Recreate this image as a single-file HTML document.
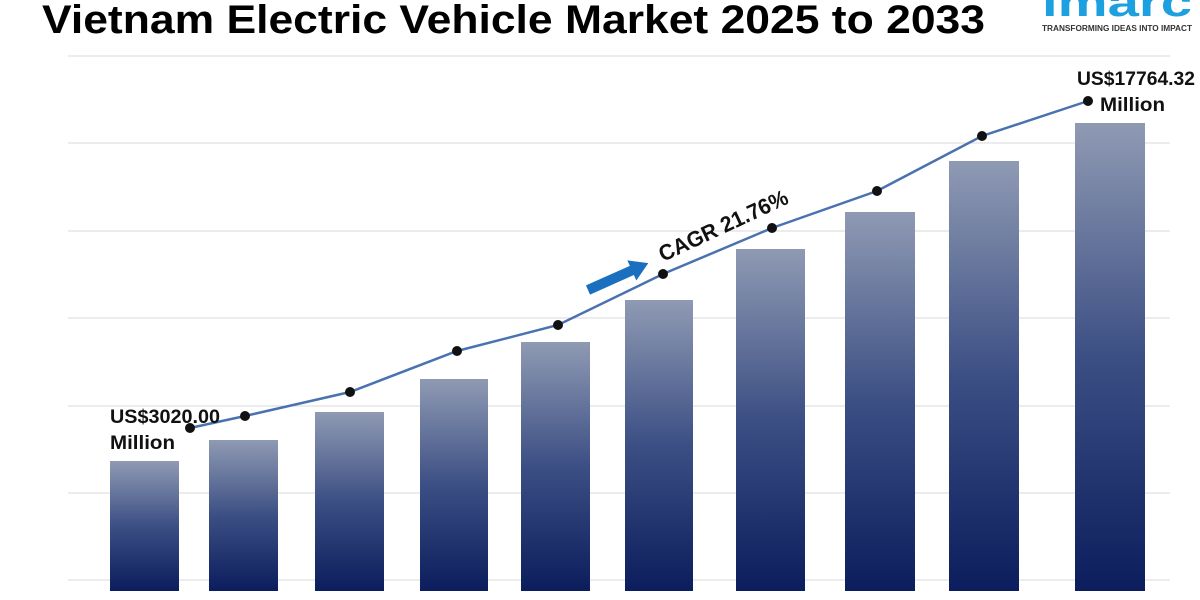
<!DOCTYPE html>
<html><head><style>html,body{margin:0;padding:0;background:#fff;width:1200px;height:600px;overflow:hidden}</style></head>
<body>
<svg width="1200" height="600" xmlns="http://www.w3.org/2000/svg" font-family="Liberation Sans, sans-serif">
<defs>
<linearGradient id="g" x1="0" y1="0" x2="0" y2="1">
<stop offset="0" stop-color="#8f9ab3"/>
<stop offset="0.5" stop-color="#3c4f84"/>
<stop offset="1" stop-color="#0b1d5c"/>
</linearGradient>
</defs>
<text x="42" y="33" font-size="40" font-weight="bold" fill="#000" textLength="943" lengthAdjust="spacingAndGlyphs">Vietnam Electric Vehicle Market 2025 to 2033</text>
<text x="1042" y="16" font-size="40" fill="#1da0e0" font-weight="bold" textLength="150" lengthAdjust="spacingAndGlyphs">imarc</text>
<text x="1042" y="31" font-size="8" font-weight="bold" fill="#333" textLength="150" lengthAdjust="spacingAndGlyphs">TRANSFORMING IDEAS INTO IMPACT</text>
<g stroke="#d9d9d9" stroke-width="1">
<line x1="68" y1="56" x2="1170" y2="56"/>
<line x1="68" y1="143" x2="1170" y2="143"/>
<line x1="68" y1="231" x2="1170" y2="231"/>
<line x1="68" y1="318" x2="1170" y2="318"/>
<line x1="68" y1="406" x2="1170" y2="406"/>
<line x1="68" y1="493" x2="1170" y2="493"/>
<line x1="68" y1="580" x2="1170" y2="580"/>
</g>
<g fill="url(#g)">
<rect x="110" y="461" width="69" height="130"/>
<rect x="209" y="440" width="69" height="151"/>
<rect x="315" y="412" width="69" height="179"/>
<rect x="420" y="379" width="68" height="212"/>
<rect x="521" y="342" width="69" height="249"/>
<rect x="625" y="300" width="68" height="291"/>
<rect x="736" y="249" width="69" height="342"/>
<rect x="845" y="212" width="70" height="379"/>
<rect x="949" y="161" width="70" height="430"/>
<rect x="1075" y="123" width="70" height="468"/>
</g>
<polyline fill="none" stroke="#4a72b0" stroke-width="2.5" points="190,428 245,416 350,392 457,351 558,325 663,274 772,228 877,191 982,136 1088,101"/>
<g fill="#111">
<circle cx="190" cy="428" r="5"/><circle cx="245" cy="416" r="5"/><circle cx="350" cy="392" r="5"/>
<circle cx="457" cy="351" r="5"/><circle cx="558" cy="325" r="5"/><circle cx="663" cy="274" r="5"/>
<circle cx="772" cy="228" r="5"/><circle cx="877" cy="191" r="5"/><circle cx="982" cy="136" r="5"/>
<circle cx="1088" cy="101" r="5"/>
</g>
<g font-size="19" font-weight="bold" fill="#111">
<text x="110" y="423" textLength="110" lengthAdjust="spacingAndGlyphs">US$3020.00</text>
<text x="110" y="449" textLength="65" lengthAdjust="spacingAndGlyphs">Million</text>
<text x="1077" y="85" textLength="118" lengthAdjust="spacingAndGlyphs">US$17764.32</text>
<text x="1100" y="111" textLength="65" lengthAdjust="spacingAndGlyphs">Million</text>
</g>
<polygon fill="#1a6fbf" transform="translate(588,290) rotate(-24)" points="0,-5 48,-5 48,-11 66,0 48,11 48,5 0,5"/>
<text x="0" y="0" font-size="22" font-weight="bold" fill="#111" transform="translate(663,262) rotate(-25)" textLength="140" lengthAdjust="spacingAndGlyphs">CAGR 21.76%</text>
</svg>
</body></html>
